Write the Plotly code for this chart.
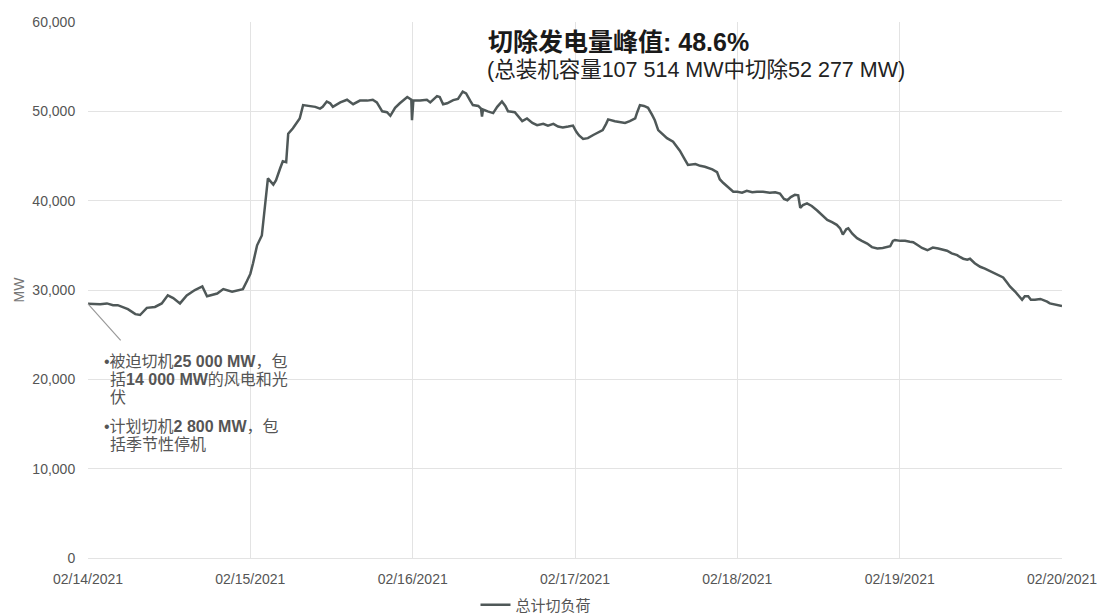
import pandas as pd
import plotly.graph_objects as go

# hours since 2021-02-14 00:00 and total outage (MW)
hours = [0.0, 1.8, 2.8, 3.7, 4.4, 5.9, 7.0, 7.7, 8.7, 9.9, 10.9, 11.8, 12.6, 13.6, 14.6, 15.8,
         16.9, 17.6, 19.1, 20.0, 21.3, 22.5, 22.9, 23.5, 24.0, 24.4, 25.0, 25.7, 26.2, 26.6,
         27.4, 27.8, 28.4, 28.8, 29.3, 29.6, 30.3, 30.9, 31.3, 31.8, 32.8, 33.6, 34.3, 34.7,
         35.3, 35.8, 36.2, 37.3, 38.3, 39.2, 40.2, 41.3, 42.1, 42.7, 43.5, 44.2, 44.7, 45.4,
         46.1, 47.2, 47.8, 47.9, 48.1, 49.1, 50.1, 50.6, 51.6, 52.0, 52.5, 53.1, 54.0, 54.7,
         55.4, 55.9, 56.5, 56.9, 57.7, 58.1, 58.25, 58.4, 59.1, 59.9, 60.5, 61.2, 61.7, 62.1,
         63.1, 63.7, 64.2, 64.9, 65.7, 66.4, 67.3, 68.0, 68.8, 69.5, 70.2, 71.0, 71.7, 72.2,
         72.6, 73.2, 73.9, 74.7, 75.4, 76.1, 76.6, 76.9, 77.9, 78.7, 79.4, 80.1, 80.9, 81.2,
         81.6, 82.2, 82.8, 83.4, 83.8, 84.3, 84.9, 85.6, 86.5, 87.1, 87.5, 88.1, 88.7, 89.8,
         90.5, 91.2, 92.3, 93.0, 93.4, 93.9, 94.6, 95.4, 96.0, 96.7, 97.4, 98.2, 98.9, 99.8,
         100.8, 101.6, 102.3, 102.9, 103.4, 103.9, 104.5, 105.0, 105.3, 105.7, 106.3, 107.0,
         107.8, 108.5, 109.3, 110.0, 110.7, 111.2, 111.6, 112.1, 112.4, 113.0, 113.7, 114.4,
         115.2, 115.9, 116.7, 117.5, 118.3, 118.6, 119.0, 119.3, 120.1, 120.8, 121.5, 122.0,
         122.7, 123.3, 124.1, 124.9, 125.7, 126.4, 127.0, 127.7, 128.5, 128.9, 129.4, 130.0,
         130.4, 131.1, 131.9, 132.6, 133.4, 134.1, 134.8, 135.3, 135.9, 136.3, 137.1, 137.7,
         138.1, 138.5, 139.0, 139.4, 140.0, 140.8, 141.2, 141.8, 142.2, 143.0, 143.4, 144.0]

outage_mw = [28450, 28400, 28500, 28300, 28300, 27850, 27300, 27200, 28000, 28100, 28500, 29400,
             29100, 28500, 29400, 30000, 30400, 29300, 29600, 30100, 29800, 30000, 30100, 31000,
             31800, 33000, 35000, 36100, 39300, 42500, 41800, 42300, 43600, 44400, 44300, 47500,
             48100, 48700, 49200, 50700, 50600, 50500, 50300, 50500, 51100, 50900, 50500, 51000,
             51300, 50800, 51200, 51200, 51300, 51000, 50000, 49900, 49500, 50400, 50900, 51600,
             51300, 49000, 51200, 51200, 51300, 51000, 51700, 51600, 50800, 50900, 51250, 51400,
             52200, 52000, 51200, 50700, 50600, 50300, 49400, 50200, 50000, 49800, 50500, 51100,
             50600, 50000, 49900, 49300, 48900, 49200, 48700, 48450, 48600, 48400, 48600, 48300,
             48200, 48300, 48400, 47700, 47300, 46900, 47000, 47350, 47600, 47900, 48600, 49100,
             48900, 48800, 48700, 48900, 49200, 49900, 50700, 50600, 50400, 49600, 49000, 47900,
             47500, 47000, 46600, 46000, 45600, 44800, 44000, 44100, 43900, 43800, 43500, 43200,
             42400, 42000, 41500, 41000, 41000, 40900, 41100, 40950, 41000, 41000, 40900, 40950,
             40800, 40200, 40050, 40400, 40650, 40600, 39200, 39500, 39700, 39400, 38900, 38400,
             37850, 37600, 37300, 36900, 36200, 36800, 36900, 36300, 35800, 35500, 35200, 34800,
             34650, 34700, 34800, 34900, 35500, 35600, 35500, 35500, 35400, 35350, 35000, 34700,
             34450, 34750, 34650, 34500, 34400, 34100, 33900, 33700, 33500, 33400, 33500, 33000,
             32600, 32400, 32100, 31800, 31600, 31400, 30800, 30400, 29800, 29300, 28900, 29300,
             29300, 28900, 28900, 29000, 28900, 28700, 28500, 28400, 28300, 28200]

x_ticks = ["2021-02-14", "2021-02-15", "2021-02-16", "2021-02-17", "2021-02-18", "2021-02-19", "2021-02-20"]
series_name = "总计切负荷"
title_1 = "<b>切除发电量峰值: 48.6%</b>"
title_2 = "(总装机容量107 514 MW中切除52 277 MW)"
note_lines = [
    "•被迫切机<b>25 000 MW</b>，包",
    "括<b>14 000 MW</b>的风电和光",
    "伏",
    "•计划切机<b>2 800 MW</b>，包",
    "括季节性停机",
]

start = pd.Timestamp("2021-02-14")
times = [start + pd.Timedelta(hours=h) for h in hours]

FONT = "Liberation Sans, Arial, Noto Sans CJK SC, sans-serif"
PL, PR, PT, PB = 88, 1062, 22, 558
W, H = 1099, 614


def px(xp):
    return (xp - PL) / (PR - PL)


def py(yp):
    return (PB - yp) / (PB - PT)


fig = go.Figure()
fig.add_trace(go.Scatter(
    x=times, y=outage_mw, mode="lines", name=series_name,
    line=dict(color="#4f5858", width=2.5),
))

fig.update_layout(
    width=W, height=H,
    margin=dict(l=PL, r=W - PR, t=PT, b=H - PB, autoexpand=False),
    paper_bgcolor="white", plot_bgcolor="white",
    font=dict(family=FONT, size=12, color="#555"),
    showlegend=True,
    legend=dict(orientation="h", x=px(536), xanchor="center", y=py(605), yanchor="middle",
                font=dict(size=15, color="#555"), itemwidth=30),
    xaxis=dict(
        type="date", range=[x_ticks[0], x_ticks[-1]],
        tickvals=x_ticks, tickformat="%m/%d/%Y",
        showgrid=True, gridcolor="#e3e3e3", gridwidth=1,
        showline=False, zeroline=False,
        ticks="outside", ticklen=8, tickcolor="rgba(0,0,0,0)",
        tickfont=dict(size=14, color="#555"),
    ),
    yaxis=dict(
        range=[0, 60000], dtick=10000, tickformat=",d",
        showgrid=True, gridcolor="#e3e3e3", gridwidth=1,
        showline=False, zeroline=True, zerolinecolor="#e3e3e3", zerolinewidth=1,
        ticks="outside", ticklen=9, tickcolor="rgba(0,0,0,0)",
        tickfont=dict(size=14, color="#555"),
        title=dict(text="MW", font=dict(size=14, color="#777"), standoff=4),
    ),
)

fig.add_annotation(xref="paper", yref="paper", x=px(486), y=py(42), xanchor="left", yanchor="middle",
                   text=title_1, showarrow=False, font=dict(size=25, color="#1a1a1a", family=FONT))
fig.add_annotation(xref="paper", yref="paper", x=px(485), y=py(70), xanchor="left", yanchor="middle",
                   text=title_2, showarrow=False, font=dict(size=21.5, color="#222", family=FONT))

# leader line from the start of the series
fig.add_annotation(x=times[0], y=outage_mw[0], text="", showarrow=True, arrowhead=0,
                   arrowwidth=1.2, arrowcolor="#9a9a9a", ax=34, ay=38)

note_x = [102, 108, 108, 102, 108]
note_y = [361, 379, 397, 426, 444]
for t, xp, yp in zip(note_lines, note_x, note_y):
    fig.add_annotation(xref="paper", yref="paper", x=px(xp), y=py(yp), xanchor="left",
                       yanchor="middle", text=t, showarrow=False, align="left",
                       font=dict(size=16, color="#555", family=FONT))

fig.write_html("out.html")
